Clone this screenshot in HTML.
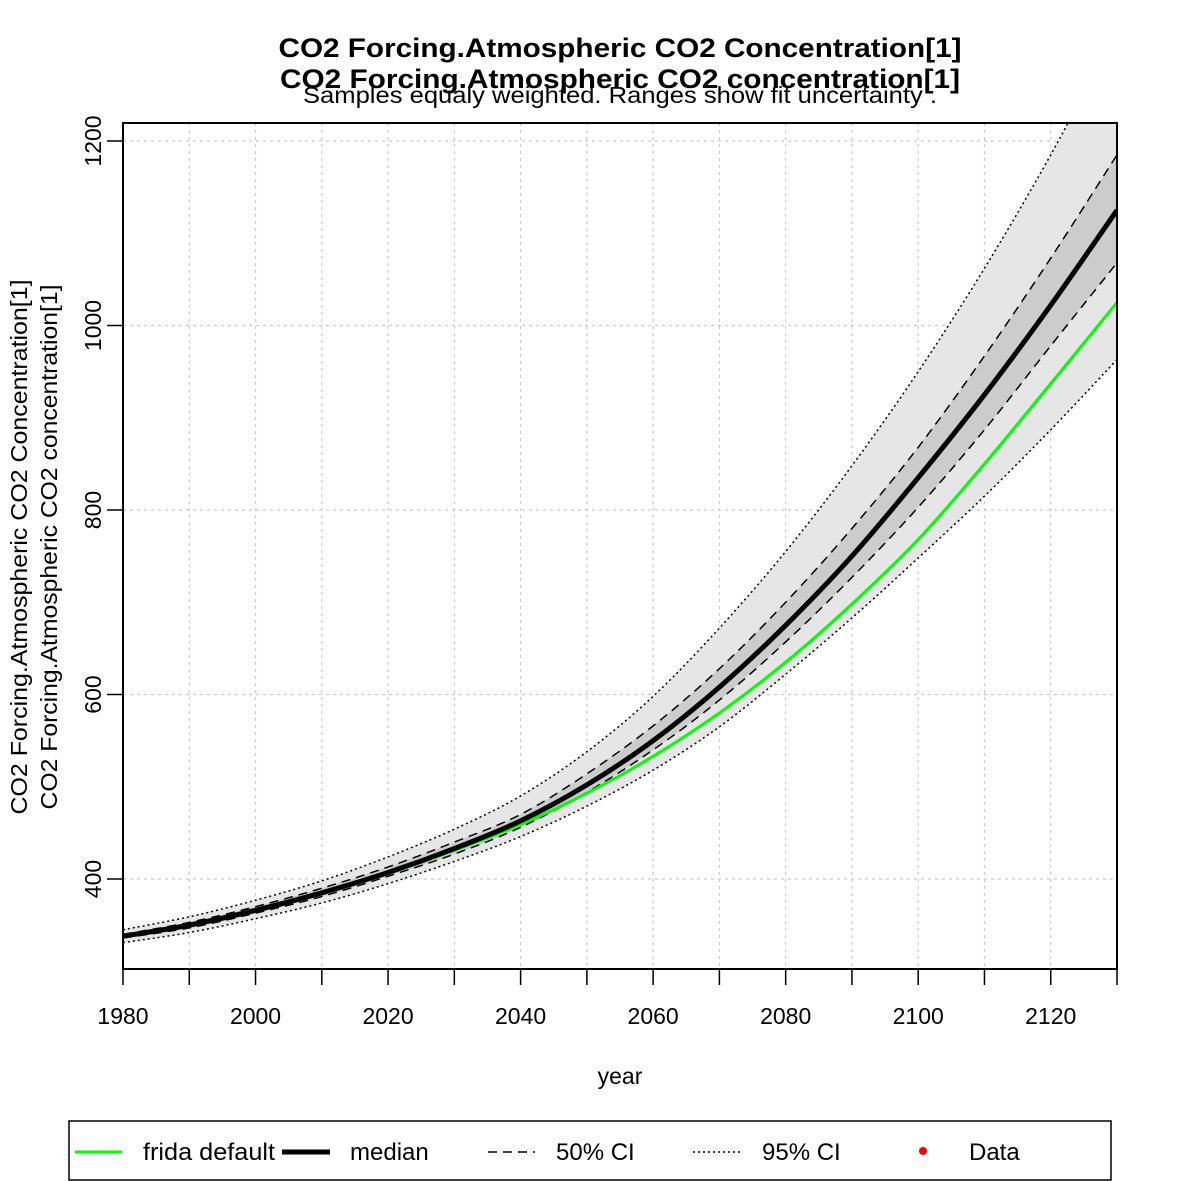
<!DOCTYPE html>
<html><head><meta charset="utf-8"><style>
body{margin:0;background:#fff}
svg{display:block;font-family:"Liberation Sans",sans-serif}
</style></head><body>
<svg id="chart" width="1181" height="1181" viewBox="0 0 1181 1181">
<defs><clipPath id="pc"><rect x="123" y="123" width="994" height="846"/></clipPath></defs>
<g id="grid"></g>
<g id="bands" clip-path="url(#pc)"></g>
<g id="lines" clip-path="url(#pc)"></g>
<rect x="123" y="123" width="994" height="846" fill="none" stroke="#000" stroke-width="2"/>
<g id="axes"></g>
<text x="620" y="57" text-anchor="middle" font-size="27" font-weight="bold" textLength="683" lengthAdjust="spacingAndGlyphs">CO2 Forcing.Atmospheric CO2 Concentration[1]</text>
<text x="620" y="88" text-anchor="middle" font-size="27" font-weight="bold" textLength="680" lengthAdjust="spacingAndGlyphs">CO2 Forcing.Atmospheric CO2 concentration[1]</text>
<text x="620" y="103" text-anchor="middle" font-size="23" textLength="634" lengthAdjust="spacingAndGlyphs">Samples equaly weighted. Ranges show  fit uncertainty .</text>
<text transform="translate(27,547) rotate(-90)" text-anchor="middle" font-size="23" textLength="535" lengthAdjust="spacingAndGlyphs">CO2 Forcing.Atmospheric CO2 Concentration[1]</text>
<text transform="translate(57,547) rotate(-90)" text-anchor="middle" font-size="23" textLength="525" lengthAdjust="spacingAndGlyphs">CO2 Forcing.Atmospheric CO2 concentration[1]</text>
<text x="620" y="1084" text-anchor="middle" font-size="23">year</text>
<g>
<rect x="69" y="1121" width="1042" height="59" fill="#fff" stroke="#000" stroke-width="1.5"/>
<line x1="75" y1="1152" x2="122" y2="1152" stroke="#00ff00" stroke-width="3"/>
<text x="143" y="1160" font-size="24" textLength="132" lengthAdjust="spacingAndGlyphs">frida default</text>
<line x1="282" y1="1152" x2="330" y2="1152" stroke="#000" stroke-width="5"/>
<text x="350" y="1160" font-size="24">median</text>
<line x1="488" y1="1152" x2="535" y2="1152" stroke="#000" stroke-width="1.5" stroke-dasharray="9,6"/>
<text x="556" y="1160" font-size="24">50% CI</text>
<line x1="693" y1="1152" x2="740" y2="1152" stroke="#000" stroke-width="1.5" stroke-dasharray="2,3"/>
<text x="762" y="1160" font-size="24">95% CI</text>
<circle cx="923" cy="1151" r="4" fill="#ff0000"/>
<text x="969" y="1160" font-size="24">Data</text>
</g>
</svg>
<script>
const years=[1980,1990,2000,2010,2020,2030,2040,2050,2060,2070,2080,2090,2100,2110,2120,2130];
const median=[338,350,366,385,407,433,463,502,550,608,675,750,835,925,1022,1125];
const frida=[337,349,365,384,406,431,459,493,533,580,635,698,768,850,937,1025];
const ci50hi=[340,353,370,390,413,440,470,514,566,628,700,780,868,967,1073,1185];
const ci50lo=[336,347,363,381,403,427,456,494,540,594,657,727,803,887,978,1068];
const ci95hi=[345,359,377,398,424,454,490,538,598,672,755,848,950,1062,1185,1320];
const ci95lo=[331,342,357,374,395,419,446,479,518,565,622,683,748,815,887,963];
const xTicks=[1980,2000,2020,2040,2060,2080,2100,2120];
const yTicks=[400,600,800,1000,1200];
const NS='http://www.w3.org/2000/svg';
const X=v=>123+(v-1980)*994/150;
const Y=v=>879-(v-400)*0.9225;
function mk(tag,attrs,parent){const e=document.createElementNS(NS,tag);for(const k in attrs)e.setAttribute(k,attrs[k]);parent.appendChild(e);return e;}
const grid=document.getElementById('grid'),bands=document.getElementById('bands'),lines=document.getElementById('lines'),axes=document.getElementById('axes');
for(let yr=1980;yr<=2130;yr+=10){
  const g=mk('line',{x1:X(yr),x2:X(yr),y1:123,y2:969,stroke:'#cccccc','stroke-width':1.2,'stroke-dasharray':'3,4'},grid);
  
  
  const t=mk('line',{x1:X(yr),x2:X(yr),y1:969,y2:985,stroke:'#000','stroke-width':1.5},axes);
  
  
}
yTicks.forEach(v=>{
  const g=mk('line',{x1:123,x2:1117,y1:Y(v),y2:Y(v),stroke:'#cccccc','stroke-width':1.2,'stroke-dasharray':'3,4'},grid);
  
  
  const t=mk('line',{x1:107,x2:123,y1:Y(v),y2:Y(v),stroke:'#000','stroke-width':1.5},axes);
  
  
  const l=mk('text',{transform:`translate(101,${Y(v)}) rotate(-90)`,'text-anchor':'middle','font-size':23},axes);
  l.textContent=v;
  
  
});
xTicks.forEach(v=>{
  const l=mk('text',{x:X(v),y:1024,'text-anchor':'middle','font-size':23},axes);
  l.textContent=v;
  
  
});
function pts(arr){return years.map((y,i)=>[X(y),Y(arr[i])]);}
function smooth(p){let d=`M${p[0][0]},${p[0][1]}`;for(let i=0;i<p.length-1;i++){const p0=p[Math.max(0,i-1)],p1=p[i],p2=p[i+1],p3=p[Math.min(p.length-1,i+2)];d+=` C${p1[0]+(p2[0]-p0[0])/6},${p1[1]+(p2[1]-p0[1])/6} ${p2[0]-(p3[0]-p1[0])/6},${p2[1]-(p3[1]-p1[1])/6} ${p2[0]},${p2[1]}`;}return d;}
function band(hi,lo,fill,name){
  const top=smooth(pts(hi));const bot=smooth(pts(lo).reverse()).replace('M','L');
  const b=mk('path',{d:top+' '+bot+' Z',fill:fill},bands);
  
  
}
band(ci95hi,ci95lo,'#e6e6e6','band-95ci');
band(ci50hi,ci50lo,'#cccccc','band-50ci');
function line(arr,stroke,w,dash,name){
  const a={d:smooth(pts(arr)),fill:'none',stroke:stroke,'stroke-width':w};if(dash)a['stroke-dasharray']=dash;
  const l=mk('path',a,lines);
  
  
}
line(ci95hi,'#000',1.5,'2,3','line-95ci-upper');
line(ci95lo,'#000',1.5,'2,3','line-95ci-lower');
line(ci50hi,'#000',1.5,'9,6','line-50ci-upper');
line(ci50lo,'#000',1.5,'9,6','line-50ci-lower');
line(frida,'#00ff00',3,null,'line-frida-default');
line(median,'#000',5,null,'line-median');
</script>
</body></html>
